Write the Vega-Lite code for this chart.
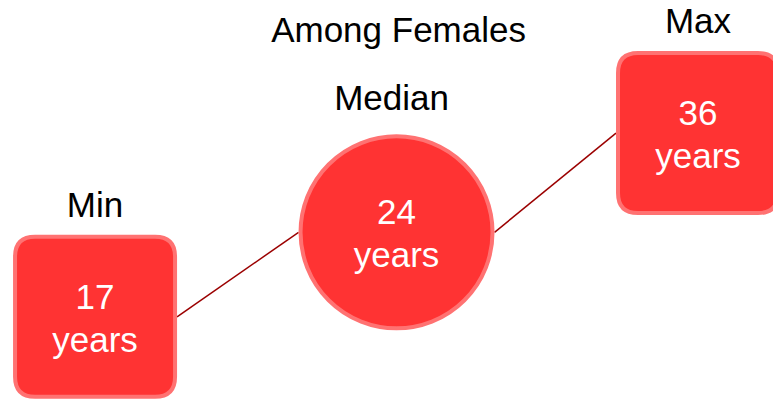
{
  "$schema": "https://vega.github.io/schema/vega-lite/v6.json",
  "width": 773,
  "height": 400,
  "autosize": "none",
  "padding": 0,
  "background": "white",
  "config": {"view": {"stroke": null}},
  "datasets": {
    "stats": [
      {"stat": "Min", "value": 17},
      {"stat": "Median", "value": 24},
      {"stat": "Max", "value": 36}
    ],
    "links": [
      {"from": "Min", "fromValue": 17, "to": "Median", "toValue": 24},
      {"from": "Median", "fromValue": 24, "to": "Max", "toValue": 36}
    ]
  },
  "encoding": {
    "x": {"field": "stat", "type": "nominal", "axis": null,
      "scale": {"type": "point", "domain": ["Min", "Median", "Max"], "padding": 0.282, "align": 0.559}},
    "y": {"field": "value", "type": "quantitative", "axis": null,
      "scale": {"type": "log", "domain": [12.1, 62], "nice": false, "zero": false}}
  },
  "layer": [
    {
      "data": {"name": "links"},
      "transform": [{"filter": "datum.from == 'Min'"}],
      "mark": {"type": "rule", "color": "#9B0000", "strokeWidth": 1.5, "xOffset": 82, "x2Offset": -98},
      "encoding": {
        "x": {"field": "from", "type": "nominal"},
        "y": {"field": "fromValue", "type": "quantitative"},
        "x2": {"field": "to"},
        "y2": {"field": "toValue"}
      }
    },
    {
      "data": {"name": "links"},
      "transform": [{"filter": "datum.from == 'Median'"}],
      "mark": {"type": "rule", "color": "#9B0000", "strokeWidth": 1.5, "xOffset": 98, "x2Offset": -82},
      "encoding": {
        "x": {"field": "from", "type": "nominal"},
        "y": {"field": "fromValue", "type": "quantitative"},
        "x2": {"field": "to"},
        "y2": {"field": "toValue"}
      }
    },
    {
      "data": {"name": "stats"},
      "transform": [{"filter": "datum.stat != 'Median'"}],
      "mark": {"type": "point", "filled": true, "opacity": 1, "fill": "#FF3333", "stroke": "#FF7272", "strokeWidth": 4, "size": 25600,
        "shape": "M-0.75,-1 L0.75,-1 Q1,-1 1,-0.75 L1,0.75 Q1,1 0.75,1 L-0.75,1 Q-1,1 -1,0.75 L-1,-0.75 Q-1,-1 -0.75,-1 Z"}
    },
    {
      "data": {"name": "stats"},
      "transform": [{"filter": "datum.stat == 'Median'"}],
      "mark": {"type": "point", "shape": "circle", "filled": true, "opacity": 1, "fill": "#FF3333", "stroke": "#FF7272", "strokeWidth": 4, "size": 36864}
    },
    {
      "data": {"name": "stats"},
      "mark": {"type": "text", "font": "Liberation Sans", "fontSize": 35, "color": "white", "baseline": "alphabetic", "align": "center", "dy": -8},
      "encoding": {"text": {"field": "value", "type": "quantitative"}}
    },
    {
      "data": {"name": "stats"},
      "mark": {"type": "text", "font": "Liberation Sans", "fontSize": 35, "color": "white", "baseline": "alphabetic", "align": "center", "dy": 35, "text": "years"}
    },
    {
      "data": {"name": "stats"},
      "transform": [{"filter": "datum.stat != 'Median'"}],
      "mark": {"type": "text", "font": "Liberation Sans", "fontSize": 35, "color": "black", "baseline": "alphabetic", "align": "center", "dy": -100},
      "encoding": {"text": {"field": "stat", "type": "nominal"}}
    },
    {
      "data": {"name": "stats"},
      "transform": [{"filter": "datum.stat == 'Median'"}],
      "mark": {"type": "text", "font": "Liberation Sans", "fontSize": 35, "color": "black", "baseline": "alphabetic", "align": "center", "dy": -122, "dx": -5},
      "encoding": {"text": {"field": "stat", "type": "nominal"}}
    },
    {
      "data": {"name": "stats"},
      "transform": [{"filter": "datum.stat == 'Median'"}],
      "mark": {"type": "text", "font": "Liberation Sans", "fontSize": 35, "color": "black", "baseline": "alphabetic", "align": "center", "dy": -190, "dx": 2, "text": "Among Females"}
    }
  ]
}
